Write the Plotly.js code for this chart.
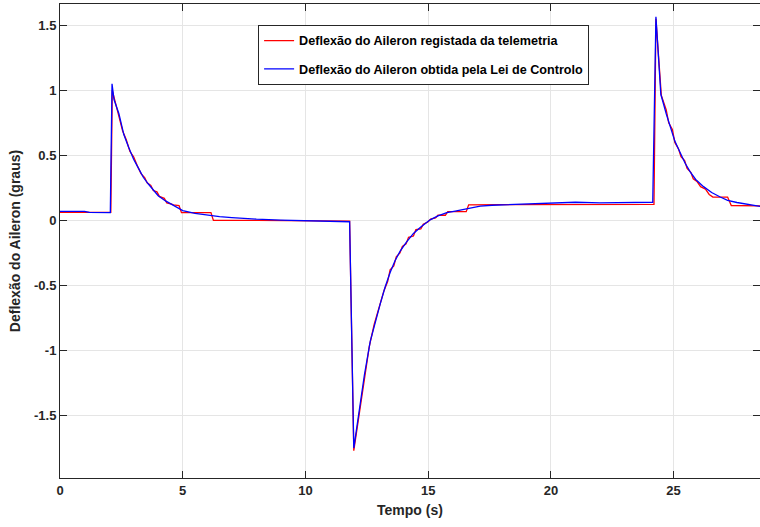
<!DOCTYPE html>
<html>
<head>
<meta charset="utf-8">
<script src="https://cdn.plot.ly/plotly-3.0.1.min.js"></script>
<style>
  html, body { margin: 0; padding: 0; background: #fff; }
  #chart { width: 760px; height: 527px; }
</style>
</head>
<body>
<div id="chart"></div>
<script>
// Aileron deflection recorded by telemetry (sample-and-hold steps)
const tTelemetria = [0, 2.07, 2.13, 2.25, 2.4, 2.55, 2.7, 2.85, 3.0, 3.15, 3.3, 3.45, 3.55, 3.7, 3.8, 3.95, 4.05, 4.25, 4.35, 4.55, 4.62, 4.85, 4.95, 6.15, 6.25, 8.0, 10.0, 11.8, 11.97, 12.1, 12.25, 12.4, 12.6, 12.8, 13.0, 13.2, 13.35, 13.45, 13.6, 13.7, 13.85, 13.95, 14.1, 14.2, 14.4, 14.5, 14.7, 14.8, 15.0, 15.1, 15.3, 15.4, 15.7, 15.8, 16.55, 16.65, 18.0, 20.0, 22.0, 24.2, 24.28, 24.5, 24.7, 24.8, 24.95, 25.05, 25.2, 25.3, 25.45, 25.55, 25.7, 25.8, 25.95, 26.1, 26.3, 26.45, 26.6, 27.2, 27.35, 28.6];
const yTelemetria = [0.062, 0.062, 1.0, 0.9, 0.8, 0.69, 0.62, 0.53, 0.49, 0.42, 0.36, 0.33, 0.29, 0.27, 0.23, 0.22, 0.185, 0.17, 0.135, 0.125, 0.12, 0.115, 0.06, 0.06, 0.0, 0.0, -0.002, -0.005, -1.77, -1.6, -1.42, -1.22, -0.97, -0.8, -0.67, -0.54, -0.47, -0.38, -0.35, -0.28, -0.25, -0.2, -0.18, -0.13, -0.12, -0.07, -0.065, -0.03, -0.01, 0.01, 0.02, 0.04, 0.04, 0.068, 0.068, 0.12, 0.122, 0.123, 0.123, 0.123, 1.55, 0.96, 0.85, 0.75, 0.7, 0.6, 0.55, 0.49, 0.46, 0.4, 0.37, 0.32, 0.3, 0.26, 0.24, 0.2, 0.18, 0.18, 0.115, 0.112];

// Aileron deflection computed from the control law
const tLeiControlo = [0, 0.5, 1.0, 1.2, 2.05, 2.12, 2.2, 2.4, 2.6, 2.8, 3.0, 3.2, 3.4, 3.6, 3.8, 4.0, 4.3, 4.6, 5.0, 5.5, 6.0, 6.5, 7.0, 7.5, 8.0, 9.0, 10.0, 11.0, 11.8, 11.97, 12.1, 12.23, 12.4, 12.64, 12.85, 13.05, 13.25, 13.45, 13.65, 13.86, 14.1, 14.4, 14.7, 15.08, 15.4, 15.76, 16.1, 16.44, 16.8, 17.12, 17.6, 18.0, 18.5, 19.0, 20.0, 21.0, 22.0, 23.0, 24.15, 24.28, 24.48, 24.7, 24.86, 25.05, 25.27, 25.47, 25.67, 25.9, 26.22, 26.55, 26.9, 27.2, 27.58, 28.0, 28.6];
const yLeiControlo = [0.07, 0.072, 0.07, 0.062, 0.06, 1.05, 0.93, 0.82, 0.66, 0.56, 0.47, 0.4, 0.33, 0.28, 0.235, 0.19, 0.15, 0.115, 0.075, 0.055, 0.04, 0.03, 0.022, 0.015, 0.01, 0.003, 0.0, -0.005, -0.01, -1.75, -1.57, -1.4, -1.19, -0.93, -0.77, -0.64, -0.51, -0.4, -0.31, -0.235, -0.17, -0.1, -0.05, 0.005, 0.035, 0.06, 0.072, 0.085, 0.1, 0.11, 0.117, 0.12, 0.125, 0.128, 0.132, 0.14, 0.135, 0.137, 0.14, 1.565, 0.97, 0.82, 0.72, 0.61, 0.52, 0.44, 0.375, 0.315, 0.26, 0.215, 0.18, 0.155, 0.138, 0.122, 0.105];

const xTicks = [0, 5, 10, 15, 20, 25];
const xTickText = ['0', '5', '10', '15', '20', '25'];
const yTicks = [-1.5, -1, -0.5, 0, 0.5, 1, 1.5];
const yTickText = ['-1.5', '-1', '-0.5', '0', '0.5', '1', '1.5'];

const nomeTelemetria = 'Deflexão do Aileron registada da telemetria';
const nomeLeiControlo = 'Deflexão do Aileron obtida pela Lei de Controlo';

const fontFamily = '"Liberation Sans", Arial, Helvetica, sans-serif';
const axisColor = '#262626';

const traces = [
  {
    x: tTelemetria, y: yTelemetria, type: 'scatter', mode: 'lines',
    name: nomeTelemetria, legendgroup: 'a',
    line: { color: '#ff0000', width: 1.3 }
  },
  {
    x: tLeiControlo, y: yLeiControlo, type: 'scatter', mode: 'lines',
    name: nomeLeiControlo, legendgroup: 'b',
    line: { color: '#0000ff', width: 1.3 }
  }
];

const axisCommon = {
  showline: true, linecolor: axisColor, linewidth: 1, mirror: 'ticks',
  ticks: 'inside', ticklen: 7, tickcolor: axisColor, tickwidth: 1,
  showgrid: true, gridcolor: '#e5e5e5', gridwidth: 1, zeroline: false,
  tickfont: { family: fontFamily, size: 13, color: axisColor, weight: 'bold' },
  tickmode: 'array'
};

const layout = {
  width: 760, height: 527,
  margin: { l: 60, r: 0, t: 4, b: 49 },
  paper_bgcolor: '#ffffff', plot_bgcolor: '#ffffff',
  showlegend: true,
  xaxis: Object.assign({}, axisCommon, {
    range: [0, 28.52], tickvals: xTicks, ticktext: xTickText,
    title: { text: 'Tempo (s)', standoff: 8,
             font: { family: fontFamily, size: 14, color: axisColor, weight: 'bold' } }
  }),
  yaxis: Object.assign({}, axisCommon, {
    range: [-1.98, 1.664], tickvals: yTicks, ticktext: yTickText,
    title: { text: 'Deflexão do Aileron (graus)', standoff: 10,
             font: { family: fontFamily, size: 14, color: axisColor, weight: 'bold' } }
  }),
  legend: {
    x: 0.283, y: 0.956, xanchor: 'left', yanchor: 'top',
    bgcolor: '#ffffff', bordercolor: axisColor, borderwidth: 1,
    font: { family: fontFamily, size: 12.6, color: '#000000', weight: 'bold' },
    traceorder: 'grouped', tracegroupgap: 9,
    entrywidthmode: 'pixels', entrywidth: 340
  }
};

Plotly.newPlot('chart', traces, layout, { displayModeBar: false, staticPlot: true });
</script>
</body>
</html>
